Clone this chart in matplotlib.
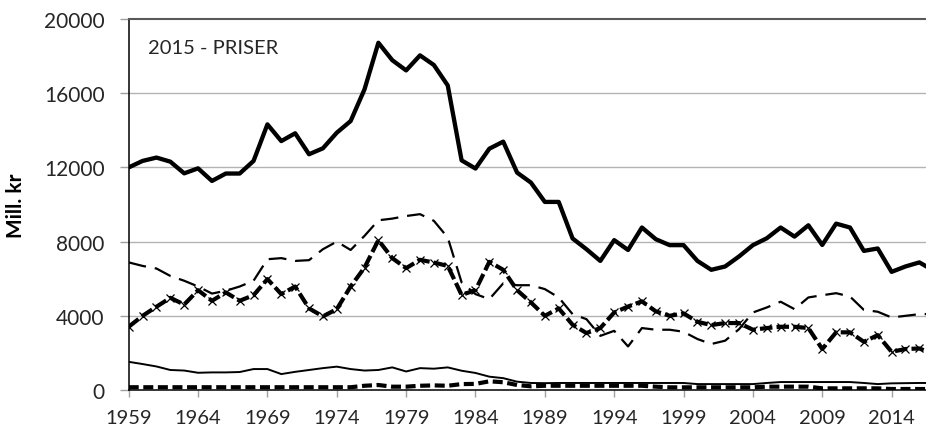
import numpy as np
import matplotlib.pyplot as plt

plt.rcParams['font.family'] = ['Lato', 'DejaVu Sans']

years = list(range(1959, 2018))

# thick solid (total)
total = [12000, 12350, 12530, 12310, 11680, 11950, 11270, 11670, 11670, 12350,
         14320, 13420, 13840, 12710, 13030, 13870, 14500, 16210, 18720, 17780,
         17230, 18040, 17520, 16420, 12380, 11940, 13010, 13390, 11720, 11180,
         10140, 10140, 8170, 7590, 6960, 8080, 7550, 8760, 8130, 7810,
         7810, 6960, 6480, 6660, 7200, 7810, 8180, 8760, 8270, 8880,
         7820, 8970, 8760, 7500, 7630, 6370, 6660, 6880, 6450]

# thick dash with x markers
marked = [3410, 4000, 4490, 4970, 4610, 5380, 4810, 5260, 4810, 5110,
          5980, 5170, 5580, 4400, 3970, 4360, 5580, 6600, 8080, 7110,
          6570, 7020, 6870, 6690, 5130, 5380, 6910, 6480, 5380, 4720,
          4000, 4400, 3520, 3070, 3340, 4180, 4500, 4780, 4240, 4000,
          4130, 3680, 3500, 3610, 3610, 3250, 3340, 3410, 3410, 3340,
          2210, 3110, 3110, 2600, 2960, 2060, 2210, 2240, 1950]

# thin long dashes
dashed = [6880, 6690, 6550, 6150, 5890, 5580, 5200, 5350, 5580, 5890,
          7050, 7110, 6960, 7000, 7590, 8000, 7550, 8310, 9150, 9240,
          9380, 9480, 9120, 8220, 5800, 5170, 4900, 5750, 5650, 5650,
          5440, 4990, 4090, 3820, 2920, 3190, 2350, 3340, 3250, 3250,
          3140, 2750, 2480, 2660, 3280, 4180, 4450, 4760, 4360, 4990,
          5110, 5220, 5040, 4320, 4220, 3910, 4000, 4090, 4100]

# thin solid
thin = [1520, 1400, 1270, 1080, 1050, 930, 950, 950, 970, 1130,
        1130, 860, 980, 1080, 1180, 1260, 1130, 1050, 1080, 1220,
        1000, 1180, 1150, 1220, 1040, 920, 720, 640, 450, 380,
        370, 380, 380, 380, 380, 380, 380, 380, 380, 380,
        380, 320, 320, 320, 320, 320, 380, 430, 430, 430,
        430, 430, 430, 380, 320, 360, 370, 380, 380]

# thick short dashes
short = [150, 150, 150, 150, 150, 150, 150, 150, 150, 150,
         150, 150, 150, 150, 150, 150, 150, 230, 270, 180,
         180, 230, 250, 230, 320, 330, 470, 420, 270, 200,
         230, 230, 230, 230, 230, 230, 230, 230, 180, 145,
         145, 145, 145, 145, 145, 145, 180, 180, 180, 180,
         90, 90, 90, 90, 90, 55, 55, 55, 50]

xticks = list(range(1959, 2015, 5))
yticks = [0, 4000, 8000, 12000, 16000, 20000]

fig = plt.figure(figsize=(9.26, 4.35), dpi=100)
ax = fig.add_axes([0.139, 0.1011, 0.861, 0.8529])

for y in yticks[1:-1]:
    ax.axhline(y, color='#b3b3b3', lw=1.0, zorder=0)

ax.plot(years, short, color='black', lw=3.0, dashes=(2.4, 1.1), zorder=2)
ax.plot(years, thin, color='black', lw=1.4, zorder=2)
ax.plot(years, dashed, color='black', lw=1.6, dashes=(8, 4), zorder=3)
ax.plot(years, marked, color='black', lw=3.0, dashes=(3, 1.0), zorder=4,
        marker='x', ms=6, mew=0.9, mec='black')
ax.plot(years, total, color='black', lw=3.1, zorder=5)

ax.set_xlim(1959, 2016.48)
ax.set_ylim(0, 20000)
ax.set_xticks(xticks)
ax.set_yticks(yticks)
ax.tick_params(axis='x', labelsize=14.5, length=5, width=1, color='#a0a0a0',
               pad=9, labelcolor='#262626')
ax.tick_params(axis='y', labelsize=15, length=6.5, width=1, color='#a0a0a0',
               pad=11, labelcolor='#262626')

ax.spines['right'].set_visible(False)
ax.spines['top'].set_color('#595959')
ax.spines['top'].set_linewidth(1.5)
ax.spines['left'].set_color('black')
ax.spines['left'].set_linewidth(1.1)
ax.spines['bottom'].set_color('black')
ax.spines['bottom'].set_linewidth(1.1)

ax.set_ylabel('Mill. kr', fontsize=15, fontweight='bold', labelpad=13)
ax.text(1960.4, 18450, '2015 - PRISER', fontsize=14.5, color='#262626',
        va='center', ha='left')

plt.savefig('out.png', dpi=100)
